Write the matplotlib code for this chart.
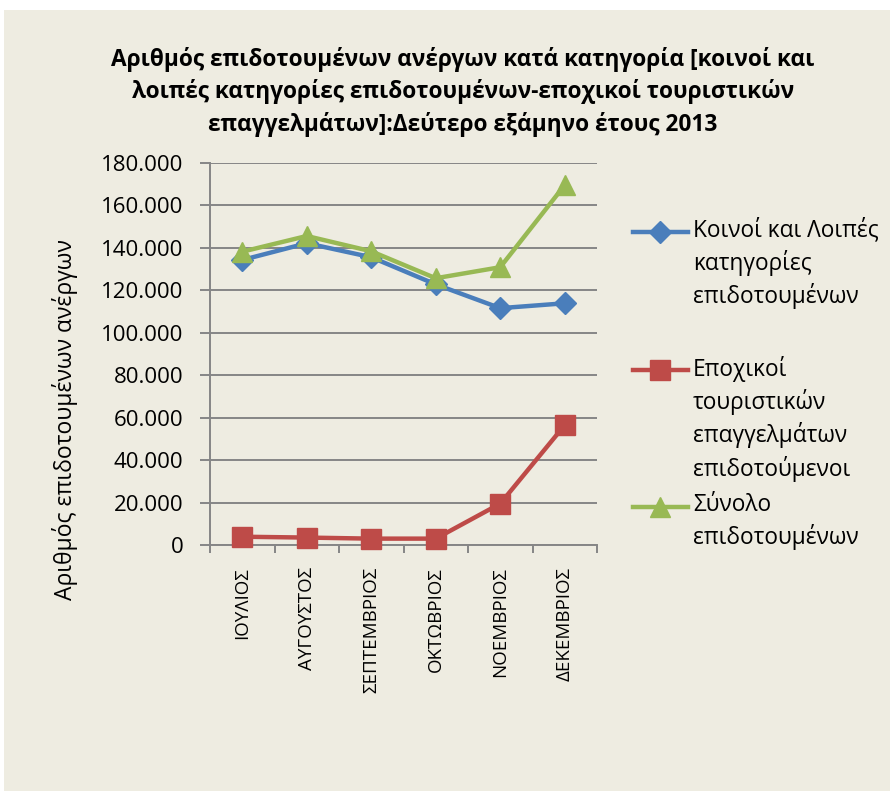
import matplotlib
matplotlib.use("Agg")
import matplotlib.pyplot as plt
from matplotlib.lines import Line2D
from matplotlib.patches import Rectangle
from matplotlib.ticker import FuncFormatter, MultipleLocator

plt.rcParams['font.family'] = ['Open Sans', 'DejaVu Sans']

months = ["ΙΟΥΛΙΟΣ", "ΑΥΓΟΥΣΤΟΣ", "ΣΕΠΤΕΜΒΡΙΟΣ", "ΟΚΤΩΒΡΙΟΣ", "ΝΟΕΜΒΡΙΟΣ", "ΔΕΚΕΜΒΡΙΟΣ"]
common = [134300, 142200, 135600, 122800, 111600, 113900]
seasonal = [3900, 3500, 3000, 3000, 19500, 56500]
total = [138200, 145600, 138400, 125700, 130900, 169600]

series_labels = ["Κοινοί και Λοιπές\nκατηγορίες\nεπιδοτουμένων",
                 "Εποχικοί\nτουριστικών\nεπαγγελμάτων\nεπιδοτούμενοι",
                 "Σύνολο\nεπιδοτουμένων"]
title = ("Αριθμός επιδοτουμένων ανέργων κατά κατηγορία [κοινοί και\n"
         "λοιπές κατηγορίες επιδοτουμένων-εποχικοί τουριστικών\n"
         "επαγγελμάτων]:Δεύτερο εξάμηνο έτους 2013")
ylabel = "Αριθμός επιδοτουμένων ανέργων"

BG = "#EEECE1"
GRID = "#868686"
colors = ["#4A7EBB", "#BE4B48", "#98B954"]
markers = ["D", "s", "^"]
msizes = [11, 14, 14]

W, H = 890, 791
fig = plt.figure(figsize=(W / 100, H / 100), dpi=100)
fig.patch.set_facecolor("white")
fig.add_artist(Rectangle((4 / W, 0), 1 - 4 / W, (H - 10) / H, transform=fig.transFigure,
                         facecolor=BG, edgecolor="none", zorder=-10))

ax = fig.add_axes([210 / W, (H - 545) / H, (597 - 210) / W, (545 - 163) / H])
ax.set_facecolor(BG)
ax.patch.set_alpha(0)

x = list(range(len(months)))
for vals, c, m, ms in zip([common, seasonal, total], colors, markers, msizes):
    ax.plot(x, vals, color=c, lw=3.2, marker=m, markersize=ms, markeredgecolor=c,
            markerfacecolor=c, zorder=3, clip_on=False)

ax.set_xlim(-0.5, len(months) - 0.5)
ax.set_ylim(0, 180000)
ax.yaxis.set_major_locator(MultipleLocator(20000))
ax.yaxis.set_major_formatter(FuncFormatter(lambda v, p: f"{int(v):,}".replace(",", ".")))
ax.grid(axis="y", color=GRID, lw=1.4)
ax.set_axisbelow(True)
for s in ["top", "right"]:
    ax.spines[s].set_visible(False)
for s in ["left", "bottom"]:
    ax.spines[s].set_color(GRID)
    ax.spines[s].set_linewidth(1.4)

ax.set_xticks([i - 0.5 for i in range(len(months) + 1)], minor=False)
ax.set_xticklabels([])
ax.set_xticks(x, minor=True)
ax.set_xticklabels(months, minor=True, rotation=90, fontsize=13.5, va="top")
ax.tick_params(axis="x", which="major", length=6, width=1.4, color=GRID, direction="out")
ax.tick_params(axis="x", which="minor", length=0, pad=16)
ax.tick_params(axis="y", length=7, width=1.4, color=GRID, labelsize=16, pad=12)

fig.text(0.5 * (118 + 808) / W, 1 - 92 / H, title, ha="center", va="center",
         fontsize=16.3, fontweight="bold", linespacing=1.42)
fig.text(65 / W, 1 - 420 / H, ylabel, rotation=90, ha="center", va="center", fontsize=16.5)

# legend
leg_y = [232, 370, 507]
for lbl, c, m, ms, yy in zip(series_labels, colors, markers, msizes, leg_y):
    yf = 1 - yy / H
    fig.add_artist(Line2D([633 / W, 688 / W], [yf, yf], transform=fig.transFigure,
                          color=c, lw=3.2))
    fig.add_artist(Line2D([660 / W], [yf], transform=fig.transFigure, marker=m,
                          markersize=ms, color=c, lw=0))
    fig.text(693 / W, yf + 14 / H, lbl, ha="left", va="top", fontsize=16.3, linespacing=1.36)

fig.savefig("out.png", dpi=100, facecolor=fig.get_facecolor())
